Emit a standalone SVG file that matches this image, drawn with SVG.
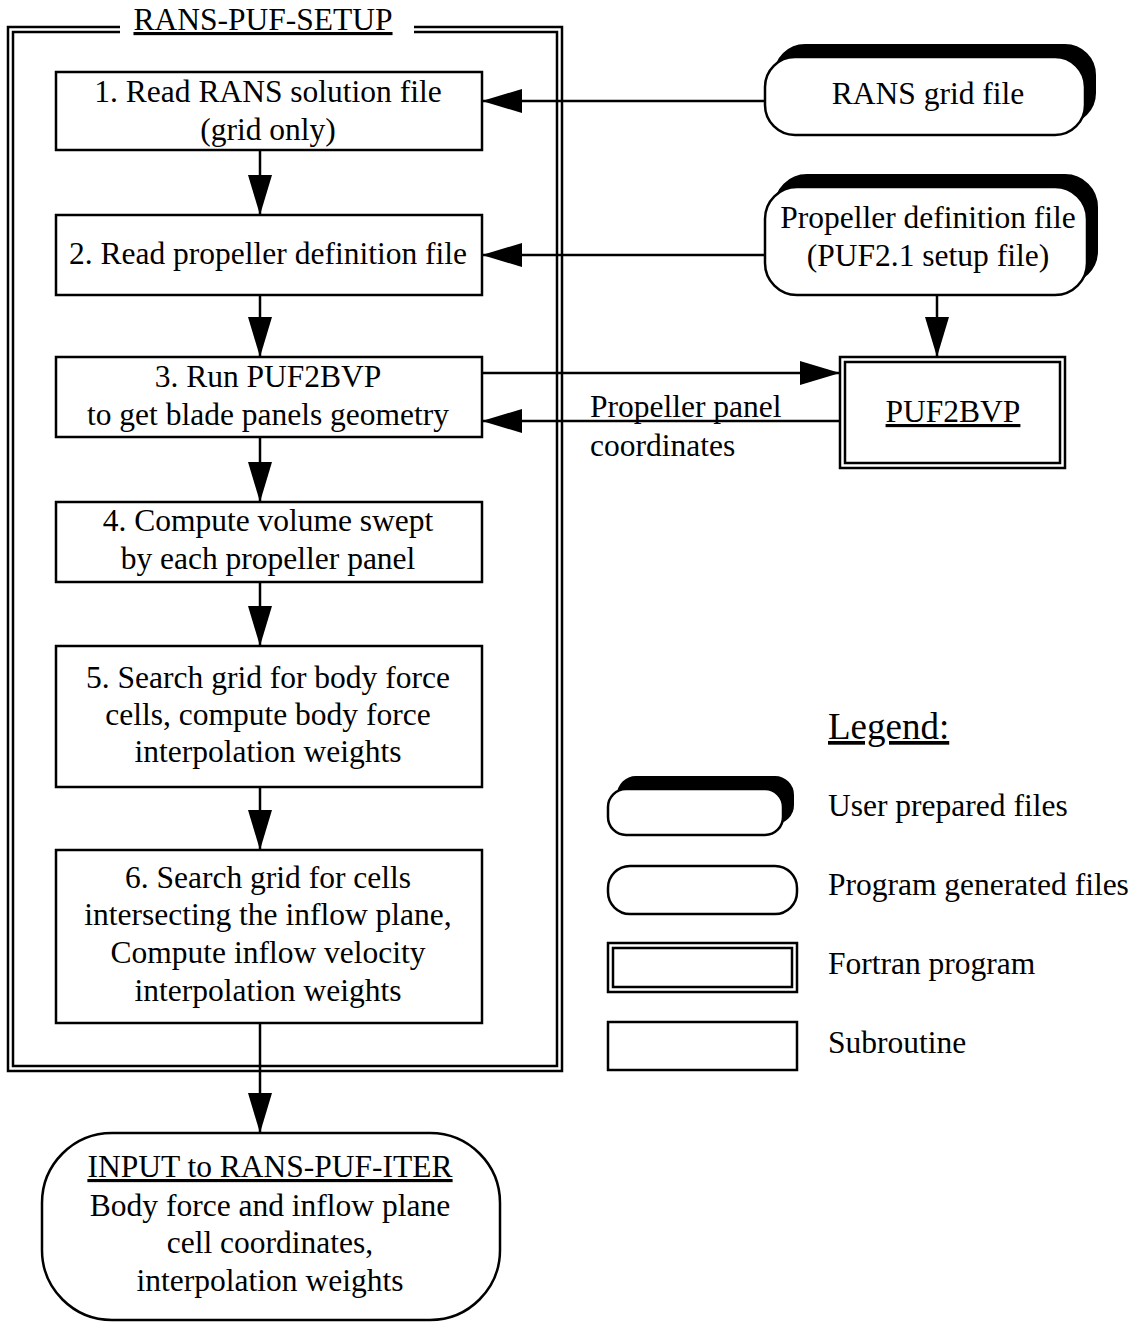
<svg xmlns="http://www.w3.org/2000/svg" width="1135" height="1323" viewBox="0 0 1135 1323">
<style>
text{font-family:"Liberation Serif","Times New Roman",serif;font-size:31.5px;fill:#000}
.c{text-anchor:middle}
.u{text-decoration:underline}
.box{fill:#fff;stroke:#000;stroke-width:2.5}
.frame{fill:none;stroke:#000;stroke-width:2.5}
.shadow{fill:#000;stroke:#000;stroke-width:2}
.conn{fill:none;stroke:#000;stroke-width:2.5}
</style>
<defs>
<marker id="arr" markerUnits="userSpaceOnUse" markerWidth="40" markerHeight="24" refX="40" refY="12" orient="auto">
<path d="M0,0 L40,12 L0,24 Z" fill="#000"/>
</marker>
</defs>
<rect width="1135" height="1323" fill="#fff"/>

<g id="setup-frame">
<path class="frame" d="M120,27 H8 V1071 H562 V27 H414"/>
<path class="frame" d="M120,32 H13 V1066 H557 V32 H414"/>
<text class="c u" x="263" y="30">RANS-PUF-SETUP</text>
</g>

<g id="step1">
<rect class="box" x="56" y="72" width="426" height="78"/>
<text class="c" x="268" y="102">1. Read RANS solution file</text>
<text class="c" x="268" y="140">(grid only)</text>
</g>
<g id="step2">
<rect class="box" x="56" y="215" width="426" height="80"/>
<text class="c" x="268" y="264">2. Read propeller definition file</text>
</g>
<g id="step3">
<rect class="box" x="56" y="357" width="426" height="80"/>
<text class="c" x="268" y="387">3. Run PUF2BVP</text>
<text class="c" x="268" y="425">to get blade panels geometry</text>
</g>
<g id="step4">
<rect class="box" x="56" y="502" width="426" height="80"/>
<text class="c" x="268" y="531">4. Compute volume swept</text>
<text class="c" x="268" y="569">by each propeller panel</text>
</g>
<g id="step5">
<rect class="box" x="56" y="646" width="426" height="141"/>
<text class="c" x="268" y="688">5. Search grid for body force</text>
<text class="c" x="268" y="725">cells, compute body force</text>
<text class="c" x="268" y="762">interpolation weights</text>
</g>
<g id="step6">
<rect class="box" x="56" y="850" width="426" height="173"/>
<text class="c" x="268" y="888">6. Search grid for cells</text>
<text class="c" x="268" y="925">intersecting the inflow plane,</text>
<text class="c" x="268" y="963">Compute inflow velocity</text>
<text class="c" x="268" y="1001">interpolation weights</text>
</g>

<g id="output">
<rect class="box" x="42" y="1133" width="458" height="187" rx="70" ry="70"/>
<text class="c u" x="270" y="1177">INPUT to RANS-PUF-ITER</text>
<text class="c" x="270" y="1216">Body force and inflow plane</text>
<text class="c" x="270" y="1253">cell coordinates,</text>
<text class="c" x="270" y="1291">interpolation weights</text>
</g>

<g id="rans-grid-file">
<rect class="shadow" x="775" y="45" width="320" height="78" rx="30" ry="30"/>
<rect class="box" x="765" y="57" width="320" height="78" rx="30" ry="30"/>
<text class="c" x="928" y="104">RANS grid file</text>
</g>

<g id="propeller-definition-file">
<rect class="shadow" x="775" y="175" width="322" height="108" rx="32" ry="32"/>
<rect class="box" x="765" y="187" width="322" height="108" rx="32" ry="32"/>
<text class="c" x="928" y="228">Propeller definition file</text>
<text class="c" x="928" y="266">(PUF2.1 setup file)</text>
</g>

<g id="puf2bvp">
<rect class="box" x="840" y="357" width="225" height="111"/>
<rect class="frame" x="845" y="362" width="215" height="101"/>
<text class="c u" x="953" y="422">PUF2BVP</text>
</g>

<g id="connectors">
<line class="conn" x1="260" y1="150" x2="260" y2="215" marker-end="url(#arr)"/>
<line class="conn" x1="260" y1="295" x2="260" y2="357" marker-end="url(#arr)"/>
<line class="conn" x1="260" y1="437" x2="260" y2="502" marker-end="url(#arr)"/>
<line class="conn" x1="260" y1="582" x2="260" y2="646" marker-end="url(#arr)"/>
<line class="conn" x1="260" y1="787" x2="260" y2="850" marker-end="url(#arr)"/>
<line class="conn" x1="260" y1="1023" x2="260" y2="1133" marker-end="url(#arr)"/>
<line class="conn" x1="765" y1="101" x2="482" y2="101" marker-end="url(#arr)"/>
<line class="conn" x1="765" y1="255" x2="482" y2="255" marker-end="url(#arr)"/>
<line class="conn" x1="937" y1="295" x2="937" y2="357" marker-end="url(#arr)"/>
<line class="conn" x1="482" y1="373" x2="840" y2="373" marker-end="url(#arr)"/>
<line class="conn" x1="840" y1="421" x2="482" y2="421" marker-end="url(#arr)"/>
<text x="590" y="417">Propeller panel</text>
<text x="590" y="456">coordinates</text>
</g>

<g id="legend">
<text class="u" x="828" y="739" style="font-size:37px">Legend:</text>
<rect class="shadow" x="618" y="777" width="175" height="46" rx="18" ry="18"/>
<rect class="box" x="608" y="789" width="175" height="46" rx="18" ry="18"/>
<text x="828" y="816">User prepared files</text>
<rect class="box" x="608" y="866" width="189" height="48" rx="22" ry="22"/>
<text x="828" y="895">Program generated files</text>
<rect class="box" x="608" y="943" width="189" height="49"/>
<rect class="frame" x="613" y="948" width="179" height="39"/>
<text x="828" y="974">Fortran program</text>
<rect class="box" x="608" y="1022" width="189" height="48"/>
<text x="828" y="1053">Subroutine</text>
</g>
</svg>
